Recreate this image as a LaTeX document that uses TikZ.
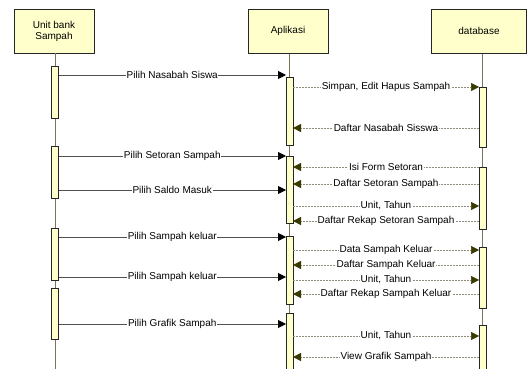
\documentclass[tikz,border=0pt]{standalone}
\usepackage{fontspec}
\setmainfont{Liberation Sans}
\usetikzlibrary{arrows.meta}
\definecolor{boxfill}{HTML}{FFFFCC}
\definecolor{lifeln}{HTML}{7A7450}
\definecolor{dashc}{HTML}{8C8C78}
\definecolor{headc}{HTML}{3A3A00}
\definecolor{solidc}{HTML}{505050}
\tikzset{
  actor/.style={draw=black!85, fill=boxfill, line width=0.8pt, minimum width=80pt, minimum height=44pt, anchor=north, align=center, font=\fontsize{10}{11.5}\selectfont},
  actbar/.style={draw=black!85, fill=boxfill, line width=0.8pt, minimum width=7pt, anchor=north, inner sep=0pt},
  life/.style={draw=lifeln, line width=0.8pt},
  solidmsg/.style={draw=solidc, line width=0.8pt, -{Triangle[length=8pt,width=8pt,color=black,fill=black]}},
  dashmsg/.style={draw=dashc, line width=0.5pt, dash pattern=on 2pt off 1pt, -{Triangle[length=8pt,width=8pt,color=headc,fill=headc]}},
  lbl/.style={fill=white, inner sep=0.6pt, font=\fontsize{10}{11.5}\selectfont}
}
\begin{document}
\begin{tikzpicture}[x=1pt,y=-1pt]
\useasboundingbox (0,0) rectangle (527,369);
% actors
\node[actor] (unit) at (54,9) {Unit bank\\Sampah};
\node[actor] (app) at (288,9) {Aplikasi};
\node[actor, minimum width=95pt] (db) at (479,9) {database};
% lifeline ends
\coordinate (uend) at (55,369);
\coordinate (aend) at (289,369);
\coordinate (dend) at (482,369);
\draw[life] (55,53) -- (uend);
\draw[life] (289,54) -- (aend);
\draw[life] (482,54) -- (dend);
% activation bars
\node[actbar, minimum height=52pt] (u1) at (55,66) {};
\node[actbar, minimum height=52pt] (u2) at (55,146) {};
\node[actbar, minimum height=52pt] (u3) at (55,228) {};
\node[actbar, minimum height=51pt] (u4) at (55,288) {};
\node[actbar, minimum height=68pt] (a1) at (289.5,77) {};
\node[actbar, minimum height=67pt] (a2) at (289.5,156) {};
\node[actbar, minimum height=68pt] (a3) at (289.5,236) {};
\node[actbar, minimum height=60pt] (a4) at (289.5,313) {};
\node[actbar, minimum height=60pt] (d1) at (482.5,87) {};
\node[actbar, minimum height=62pt] (d2) at (482.5,167) {};
\node[actbar, minimum height=61pt] (d3) at (482.5,247) {};
\node[actbar, minimum height=50pt] (d4) at (482.5,325) {};
% message end points
\foreach \n/\y in {1/75,2/156,3/190,4/237,5/277,6/324}{
  \coordinate (us\n) at (58.5,\y);
  \coordinate (ae\n) at (286,\y);
}
\foreach \n/\y in {1/87,2/128,3/167,4/184,5/206,6/221,7/250,8/265,9/280,10/294,11/336,12/357}{
  \coordinate (ar\n) at (293,\y);
  \coordinate (dl\n) at (479,\y);
}
% solid messages
\draw[solidmsg] (us1) -- node[lbl]{Pilih Nasabah Siswa} (ae1);
\draw[solidmsg] (us2) -- node[lbl]{Pilih Setoran Sampah} (ae2);
\draw[solidmsg] (us3) -- node[lbl]{Pilih Saldo Masuk} (ae3);
\draw[solidmsg] (us4) -- node[lbl]{Pilih Sampah keluar} (ae4);
\draw[solidmsg] (us5) -- node[lbl]{Pilih Sampah keluar} (ae5);
\draw[solidmsg] (us6) -- node[lbl]{Pilih Grafik Sampah} (ae6);
% dashed messages
\draw[dashmsg] (ar1) -- node[lbl]{Simpan, Edit Hapus Sampah} (dl1);
\draw[dashmsg] (dl2) -- node[lbl]{Daftar Nasabah Sisswa} (ar2);
\draw[dashmsg] (dl3) -- node[lbl]{Isi Form Setoran} (ar3);
\draw[dashmsg] (dl4) -- node[lbl]{Daftar Setoran Sampah} (ar4);
\draw[dashmsg] (ar5) -- node[lbl]{Unit, Tahun} (dl5);
\draw[dashmsg] (dl6) -- node[lbl]{Daftar Rekap Setoran Sampah} (ar6);
\draw[dashmsg] (ar7) -- node[lbl]{Data Sampah Keluar} (dl7);
\draw[dashmsg] (dl8) -- node[lbl]{Daftar Sampah Keluar} (ar8);
\draw[dashmsg] (ar9) -- node[lbl]{Unit, Tahun} (dl9);
\draw[dashmsg] (dl10) -- node[lbl]{Daftar Rekap Sampah Keluar} (ar10);
\draw[dashmsg] (ar11) -- node[lbl]{Unit, Tahun} (dl11);
\draw[dashmsg] (dl12) -- node[lbl]{View Grafik Sampah} (ar12);
\end{tikzpicture}
\end{document}
